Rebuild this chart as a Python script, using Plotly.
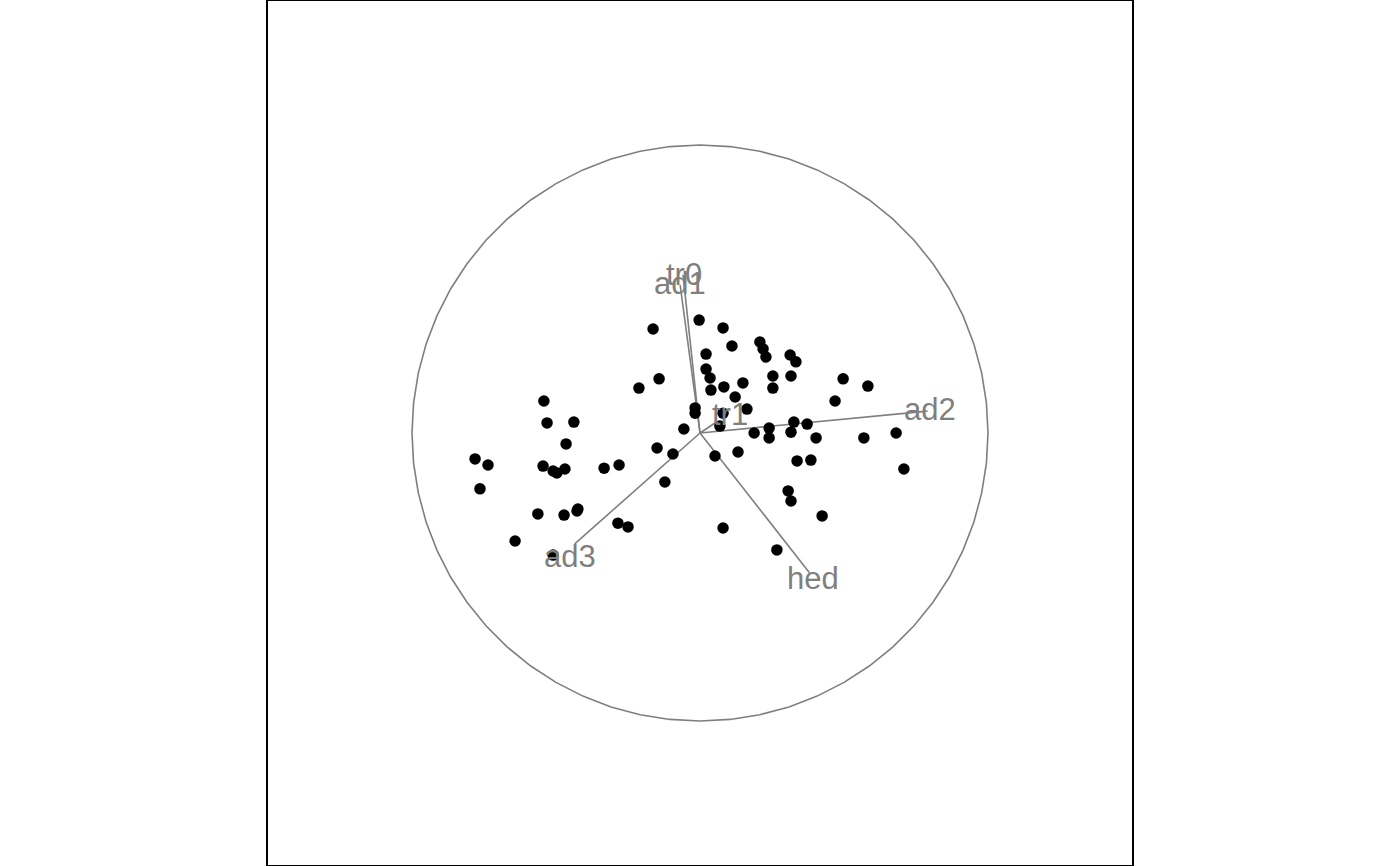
import numpy as np
import plotly.graph_objects as go

# Projected data points (tour projection coordinates; circle radius = 1)
proj_x = [-0.163, -0.003, 0.080, 0.111, 0.021, 0.208, 0.219, 0.229, 0.313, 0.333,
          0.021, 0.035, 0.038, 0.083, 0.149, 0.122, 0.253, 0.253, 0.316, -0.142,
          -0.212, 0.497, 0.583, 0.469, -0.017, -0.017, 0.080, 0.163, 0.069, -0.056,
          -0.149, -0.094, 0.052, 0.132, 0.188, 0.240, 0.240, 0.326, 0.316, 0.372,
          0.403, 0.569, 0.681, 0.708, 0.337, 0.385, 0.306, 0.316, 0.424, 0.080,
          0.267, -0.122, -0.542, -0.531, -0.438, -0.465, -0.781, -0.736, -0.545, -0.510,
          -0.497, -0.469, -0.333, -0.281, -0.764, -0.563, -0.472, -0.424, -0.427, -0.285,
          -0.250, -0.642, -0.510]
proj_y = [0.361, 0.392, 0.365, 0.302, 0.274, 0.316, 0.292, 0.264, 0.271, 0.247,
          0.222, 0.191, 0.149, 0.160, 0.174, 0.125, 0.198, 0.156, 0.198, 0.188,
          0.156, 0.188, 0.163, 0.111, 0.087, 0.069, 0.069, 0.083, 0.024, 0.014,
          -0.052, -0.073, -0.080, -0.066, 0.000, 0.017, -0.017, 0.038, 0.003, 0.031,
          -0.017, -0.017, 0.000, -0.125, -0.097, -0.094, -0.201, -0.236, -0.288, -0.330,
          -0.406, -0.170, 0.111, 0.035, 0.038, -0.038, -0.090, -0.111, -0.115, -0.132,
          -0.139, -0.125, -0.122, -0.111, -0.194, -0.281, -0.285, -0.264, -0.271, -0.313,
          -0.326, -0.375, -0.424]

# Projection axes (variable contributions)
axis_names = ["tr0", "ad1", "ad2", "hed", "ad3", "tr1"]
axis_x = [-0.059, -0.069, 0.790, 0.380, -0.435, 0.060]
axis_y = [0.549, 0.514, 0.076, -0.485, -0.385, 0.040]

GREY = "#7F7F7F"
R = 433 / 288  # half-width of square plotting region in data units

fig = go.Figure()

# unit circle (polygon as drawn by R)
theta = np.linspace(0, 2 * np.pi, 61)
fig.add_trace(go.Scatter(x=np.cos(theta), y=np.sin(theta), mode="lines",
                         line=dict(color=GREY, width=1.6), hoverinfo="skip"))

# axis segments
for ax_, ay_ in zip(axis_x, axis_y):
    fig.add_trace(go.Scatter(x=[0, ax_], y=[0, ay_], mode="lines",
                             line=dict(color=GREY, width=1.6), hoverinfo="skip"))

# points
fig.add_trace(go.Scatter(x=proj_x, y=proj_y, mode="markers",
                         marker=dict(color="black", size=11.5, line=dict(width=0))))

# axis labels
label_shift = [(1, 0), (0, 1), (2, 2), (4, -6), (-5, -13), (13, 7)]
for name, ax_, ay_, (sx, sy) in zip(axis_names, axis_x, axis_y, label_shift):
    fig.add_annotation(x=ax_, y=ay_, text=name, showarrow=False,
                       xshift=sx, yshift=sy,
                       font=dict(family="Liberation Sans, Arial, sans-serif",
                                 size=31, color=GREY),
                       xanchor="center", yanchor="middle")

fig.add_shape(type="rect", xref="paper", yref="paper", x0=0, x1=1, y0=0, y1=1,
              line=dict(color="black", width=2))

fig.update_layout(
    width=1400, height=866,
    margin=dict(l=267, r=267, t=0, b=0),
    paper_bgcolor="white", plot_bgcolor="white",
    showlegend=False,
    xaxis=dict(range=[-R, R], visible=False, showgrid=False, zeroline=False),
    yaxis=dict(range=[-R, R], visible=False, showgrid=False, zeroline=False),
)

fig.write_html("out.html", config={"displayModeBar": False},
               post_script="document.body.style.margin='0px';document.body.style.padding='0px';")
